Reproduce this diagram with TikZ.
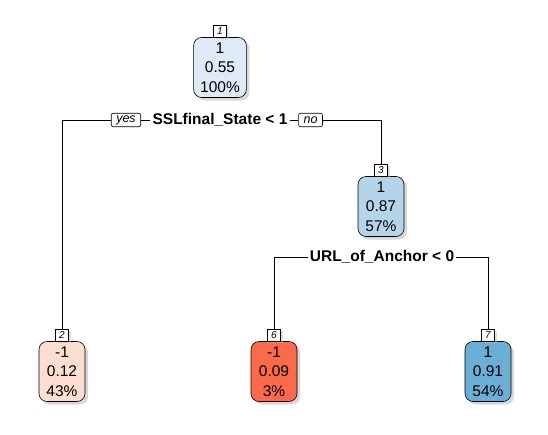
\documentclass[tikz,border=0pt]{standalone}
\usepackage{fontspec}
\setmainfont{Liberation Sans}
\usetikzlibrary{positioning,shadows}

\definecolor{blueA}{HTML}{DEEBF7}
\definecolor{blueB}{HTML}{B4D4EA}
\definecolor{blueC}{HTML}{6BAED6}
\definecolor{redA}{HTML}{FCDFD0}
\definecolor{redB}{HTML}{FB6A4A}

\begin{document}
\begin{tikzpicture}
  [x=1pt,y=-1pt,line width=0.6pt,
	leaf node/.style={draw,rounded corners=8pt,align=center,
  font=\fontsize{15.5}{19.5}\selectfont,minimum width=46pt,
  minimum height=60pt,inner xsep=6.5pt,inner ysep=2pt,
  drop shadow={shadow xshift=3pt,shadow yshift=-3pt,fill=black!30}},
	num node/.style={draw,fill=white,inner sep=1pt,
  font=\fontsize{10}{10}\selectfont\itshape,minimum width=13pt,minimum height=11.5pt,
  drop shadow={shadow xshift=2.5pt,shadow yshift=-2pt,fill=black!25}},
	split node/.style={font=\fontsize{15.5}{16}\selectfont\bfseries,inner sep=2pt},
	dir node/.style={draw,fill=white,rounded corners=2pt,inner xsep=5pt,inner ysep=1pt,
  font=\fontsize{12.5}{12.5}\selectfont\itshape,minimum height=13.5pt}]

  \useasboundingbox (0,0) rectangle (548,434);

  % tree nodes
  \node[leaf node,fill=blueA] (n1) at (220,67.5) {1\\0.55\\100\%};
  \node[leaf node,fill=blueB] (n3) at (381,206.5) {1\\0.87\\57\%};
  \node[leaf node,fill=redA] (n2) at (62,371.5) {-1\\0.12\\43\%};
  \node[leaf node,fill=redB] (n6) at (274,371.5) {-1\\0.09\\3\%};
  \node[leaf node,fill=blueC] (n7) at (488,371.5) {1\\0.91\\54\%};

  \node[num node] (l1) [above=0pt of n1] {1};
  \node[num node] (l3) [above=0pt of n3] {3};
  \node[num node] (l2) [above=0pt of n2] {2};
  \node[num node] (l6) [above=0pt of n6] {6};
  \node[num node] (l7) [above=0pt of n7] {7};

  % splits
  \node[split node] (s1) at (220,120) {SSLfinal\_State < 1};
  \node[dir node] (yes) at (126,120) {yes};
  \node[dir node] (no) at (310.5,120) {no};
  \node[split node] (s3) at (382,257) {URL\_of\_Anchor < 0};

  \draw (l2.north) |- (yes.west);
  \draw (yes.east) -- (s1.west);
  \draw (s1.east) -- (no.west);
  \draw (no.east) -| (l3.north);
  \draw (l6.north) |- (s3.west);
  \draw (s3.east) -| (l7.north);
\end{tikzpicture}
\end{document}
